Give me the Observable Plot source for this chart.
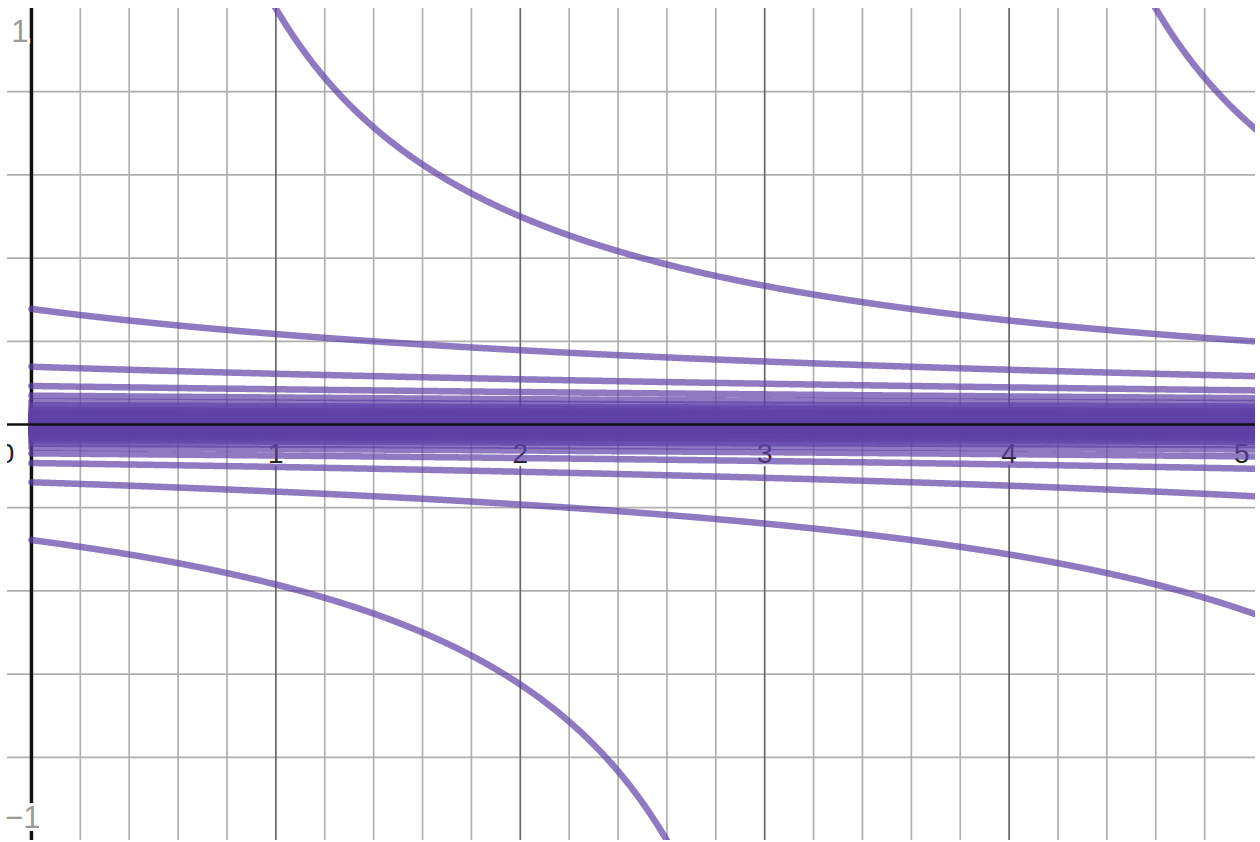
<!DOCTYPE html>
<html><head><meta charset="utf-8">
<script src="https://cdn.jsdelivr.net/npm/d3@7"></script>
<script src="https://cdn.jsdelivr.net/npm/@observablehq/plot@0.6"></script>
<style>html,body{margin:0;padding:0;background:#fff;} svg{display:block}</style>
</head><body><div id="chart"></div>
<script>
// Family of curves y = 1 / (x - k), k = multiple * shiftStep
const shiftStep = 3.6;
const shiftMultiples = [-40,-39,-38,-37,-36,-35,-34,-33,-32,-31,-30,-29,-28,-27,-26,-25,-24,-23,-22,-21,-20,-19,-18,-17,-16,-15,-14,-13,-12,-11,-10,-9,-8,-7,-6,-5,-4,-3,-2,-1,0,1,2,3,4,5,6,7,8,9,10,11,12,13,14,15,16,17,18,19,20,21,22,23,24,25,26,27,28,29,30,31,32,33,34,35,36,37,38,39,40];
const xMinorGrid = [0.2,0.4,0.6,0.8,1.2,1.4,1.6,1.8,2.2,2.4,2.6,2.8,3.2,3.4,3.6,3.8,4.2,4.4,4.6,4.8];
const xMajorGrid = [1,2,3,4];
const yGrid = [-0.8,-0.6,-0.4,-0.2,0.2,0.4,0.6,0.8];
const xTickValues = [1,2,3,4];
const xTickLabels = ["1","2","3","4"];
const xEdgeTick = {x: 5, label: "5"};
const yTickValues = [1,-1];
const yTickLabels = ["1","−1"];
const xSamples = d3.range(0, 5.0201, 0.004);

const curves = [];
for (const n of shiftMultiples) {
  const k = n * shiftStep;
  for (const x of xSamples) {
    let y = 1 / (x - k);
    if (!isFinite(y) || Math.abs(y) > 3) y = NaN;
    curves.push({x, y, n});
  }
}
const xTicks = xTickValues.map((v, i) => ({x: v, label: xTickLabels[i]}));
const yTicks = yTickValues.map((v, i) => ({y: v, label: yTickLabels[i]}));

const font = "'Liberation Sans', Arial, sans-serif";
const chart = Plot.plot({
  width: 1260,
  height: 842,
  marginLeft: 7,
  marginRight: 5,
  marginTop: 8,
  marginBottom: 2,
  style: {background: "#fff", fontFamily: font, overflow: "hidden"},
  x: {domain: [-0.098, 5.008], axis: null},
  y: {domain: [-1, 1], axis: null},
  marks: [
    Plot.ruleX(xMinorGrid, {stroke: "#b0b0b0", strokeWidth: 1.7}),
    Plot.ruleY(yGrid, {stroke: "#b0b0b0", strokeWidth: 1.7}),
    Plot.ruleX(xMajorGrid, {stroke: "#666", strokeWidth: 1.7}),
    Plot.ruleX([0], {stroke: "#111", strokeWidth: 3.5}),
    Plot.text(xTicks, {x: "x", y: () => 0, text: "label", textAnchor: "middle", lineAnchor: "bottom", dy: 38, fontSize: 28, fill: "#222", stroke: "white", strokeWidth: 6, paintOrder: "stroke"}),
    Plot.text([xEdgeTick], {x: "x", y: () => 0, text: "label", textAnchor: "end", lineAnchor: "bottom", dy: 38, dx: -4, fontSize: 28, fill: "#222", stroke: "white", strokeWidth: 6, paintOrder: "stroke"}),
    Plot.text(["0"], {x: () => 0, y: () => 0, text: d => d, textAnchor: "end", lineAnchor: "bottom", dy: 38, dx: -17, fontSize: 28, fill: "#222", clip: true}),
    Plot.text(yTicks.slice(0,1), {x: () => 0, y: "y", text: "label", textAnchor: "end", lineAnchor: "bottom", dy: 33, dx: -3, fontSize: 31, fill: "#9a9a9a", stroke: "white", strokeWidth: 6, paintOrder: "stroke"}),
    Plot.text(yTicks.slice(1), {x: () => 0, y: "y", text: "label", textAnchor: "end", lineAnchor: "bottom", dy: -13, dx: 9, fontSize: 31, fill: "#9a9a9a", stroke: "white", strokeWidth: 6, paintOrder: "stroke"}),
    Plot.line(curves, {x: "x", y: "y", z: "n", stroke: "#6042a6", strokeOpacity: 0.7, strokeWidth: 6.5, strokeLinecap: "round", strokeLinejoin: "round", clip: true, curve: "linear"}),
    Plot.ruleY([0], {stroke: "#111", strokeWidth: 2.5})
  ]
});
document.getElementById("chart").append(chart);
</script>
</body></html>
